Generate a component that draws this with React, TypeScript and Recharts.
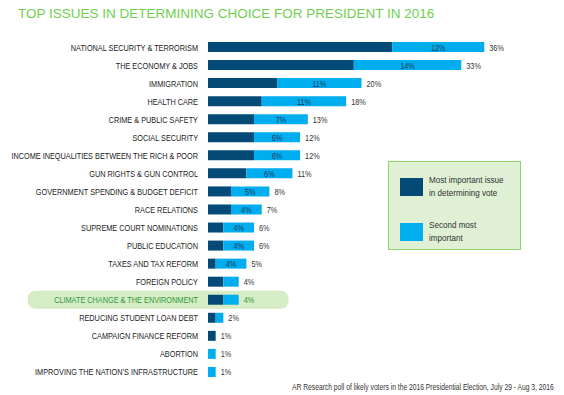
import { BarChart, Bar, XAxis, YAxis, LabelList, ReferenceArea } from "recharts";

const issues = [
  "NATIONAL SECURITY & TERRORISM",
  "THE ECONOMY & JOBS",
  "IMMIGRATION",
  "HEALTH CARE",
  "CRIME & PUBLIC SAFETY",
  "SOCIAL SECURITY",
  "INCOME INEQUALITIES BETWEEN THE RICH & POOR",
  "GUN RIGHTS & GUN CONTROL",
  "GOVERNMENT SPENDING & BUDGET DEFICIT",
  "RACE RELATIONS",
  "SUPREME COURT NOMINATIONS",
  "PUBLIC EDUCATION",
  "TAXES AND TAX REFORM",
  "FOREIGN POLICY",
  "CLIMATE CHANGE & THE ENVIRONMENT",
  "REDUCING STUDENT LOAN DEBT",
  "CAMPAIGN FINANCE REFORM",
  "ABORTION",
  "IMPROVING THE NATION’S INFRASTRUCTURE",
];
const mostImportant = [24, 19, 9, 7, 6, 6, 6, 5, 3, 3, 2, 2, 1, 2, 2, 1, 1, 0, 0];
const secondMost = [12, 14, 11, 11, 7, 6, 6, 6, 5, 4, 4, 4, 4, 2, 2, 1, 0, 1, 1];
const totals = [36, 33, 20, 18, 13, 12, 12, 11, 8, 7, 6, 6, 5, 4, 4, 2, 1, 1, 1];

const HIGHLIGHT = "CLIMATE CHANGE & THE ENVIRONMENT";
const DARK = "#034a76";
const LIGHT = "#00adee";
const FONT = "'Liberation Sans', Arial, sans-serif";
const SQUEEZE = 0.77;

const data = issues.map((issue, i) => ({
  issue,
  first: mostImportant[i],
  second: secondMost[i],
  total: totals[i],
}));

// narrow text, since there is no condensed font installed
// eslint-disable-next-line @typescript-eslint/no-explicit-any
function NarrowText({ x, y, anchor, size, fill, children }: any) {
  return (
    <text
      transform={`translate(${x},${y}) scale(${SQUEEZE},1)`}
      dy={3.5}
      textAnchor={anchor}
      fontSize={size}
      fontFamily={FONT}
      fill={fill}
    >
      {children}
    </text>
  );
}

// eslint-disable-next-line @typescript-eslint/no-explicit-any
function IssueTick({ x, y, payload }: any) {
  const hl = payload.value === HIGHLIGHT;
  return (
    <NarrowText x={x} y={y} anchor="end" size={9.5} fill={hl ? "#2f9a3c" : "#222"}>
      {payload.value}
    </NarrowText>
  );
}

// eslint-disable-next-line @typescript-eslint/no-explicit-any
function InsideLabel({ x, y, width, height, value }: any) {
  if (value < 4) return null;
  return (
    <NarrowText x={x + width / 2} y={y + height / 2} anchor="middle" size={9.5} fill="#1d3b57">
      {value}%
    </NarrowText>
  );
}

// total goes after the light part, or after the dark part when there is no light part
function totalLabel(onSecond: boolean) {
  // eslint-disable-next-line @typescript-eslint/no-explicit-any
  return function TotalLabel({ x, y, width, height, value }: any) {
    const d = data.find((r) => r.issue === value);
    if (!d || onSecond !== d.second > 0) return null;
    const hl = d.issue === HIGHLIGHT;
    return (
      <NarrowText x={x + width + 5} y={y + height / 2} anchor="start" size={9.5} fill={hl ? "#2f9a3c" : "#333"}>
        {d.total}%
      </NarrowText>
    );
  };
}
const TotalOnFirst = totalLabel(false);
const TotalOnSecond = totalLabel(true);

function LegendBox() {
  const row = (color: string, lines: string[]) => (
    <div style={{ display: "flex", alignItems: "center", marginBottom: 20 }}>
      <div style={{ width: 23, height: 18, background: color, marginRight: 6, flexShrink: 0 }} />
      <div
        style={{
          fontSize: 9.5,
          lineHeight: "12.5px",
          color: "#333",
          fontFamily: FONT,
          whiteSpace: "nowrap",
          transform: "scale(0.85,1)",
          transformOrigin: "left center",
        }}
      >
        {lines.map((l) => (
          <div key={l}>{l}</div>
        ))}
      </div>
    </div>
  );
  return (
    <div
      style={{
        position: "absolute",
        left: 388,
        top: 161,
        width: 133,
        height: 89,
        boxSizing: "border-box",
        background: "#dff0d5",
        border: "1px solid #8dd56b",
        padding: "12px 0 0 11px",
      }}
    >
      {row(DARK, ["Most important issue", "in determining vote"])}
      {row(LIGHT, ["Second most", "important"])}
    </div>
  );
}

export default function App() {
  return (
    <div style={{ position: "absolute", left: 0, top: 0, width: 564, height: 395, background: "#fff" }}>
      <div
        style={{
          position: "absolute",
          left: 18,
          top: 6,
          fontSize: 13.5,
          color: "#6fd04f",
          fontFamily: FONT,
          whiteSpace: "nowrap",
        }}
      >
        TOP ISSUES IN DETERMINING CHOICE FOR PRESIDENT IN 2016
      </div>
      <BarChart
        width={564}
        height={395}
        data={data}
        layout="vertical"
        margin={{ top: 38, right: 49, left: 0, bottom: 14 }}
        barSize={10}
      >
        <XAxis type="number" domain={[0, 40]} hide />
        <YAxis
          type="category"
          dataKey="issue"
          width={208}
          tick={<IssueTick />}
          tickLine={false}
          axisLine={false}
          tickMargin={4}
          interval={0}
        />
        <ReferenceArea
          y1={HIGHLIGHT}
          y2={HIGHLIGHT}
          x1={-23.5}
          x2={10.5}
          ifOverflow="visible"
          fill="#d5ecc4"
          fillOpacity={1}
          stroke="none"
          radius={8}
        />
        <Bar dataKey="first" stackId="a" fill={DARK} isAnimationActive={false}>
          <LabelList dataKey="issue" content={<TotalOnFirst />} />
        </Bar>
        <Bar dataKey="second" stackId="a" fill={LIGHT} isAnimationActive={false}>
          <LabelList dataKey="second" content={<InsideLabel />} />
          <LabelList dataKey="issue" content={<TotalOnSecond />} />
        </Bar>
      </BarChart>
      <LegendBox />
      <svg style={{ position: "absolute", left: 0, top: 0 }} width={564} height={395}>
        <NarrowText x={292} y={386} anchor="start" size={8.75} fill="#333">
          AR Research poll of likely voters in the 2016 Presidential Election, July 29 - Aug 3, 2016
        </NarrowText>
      </svg>
    </div>
  );
}
